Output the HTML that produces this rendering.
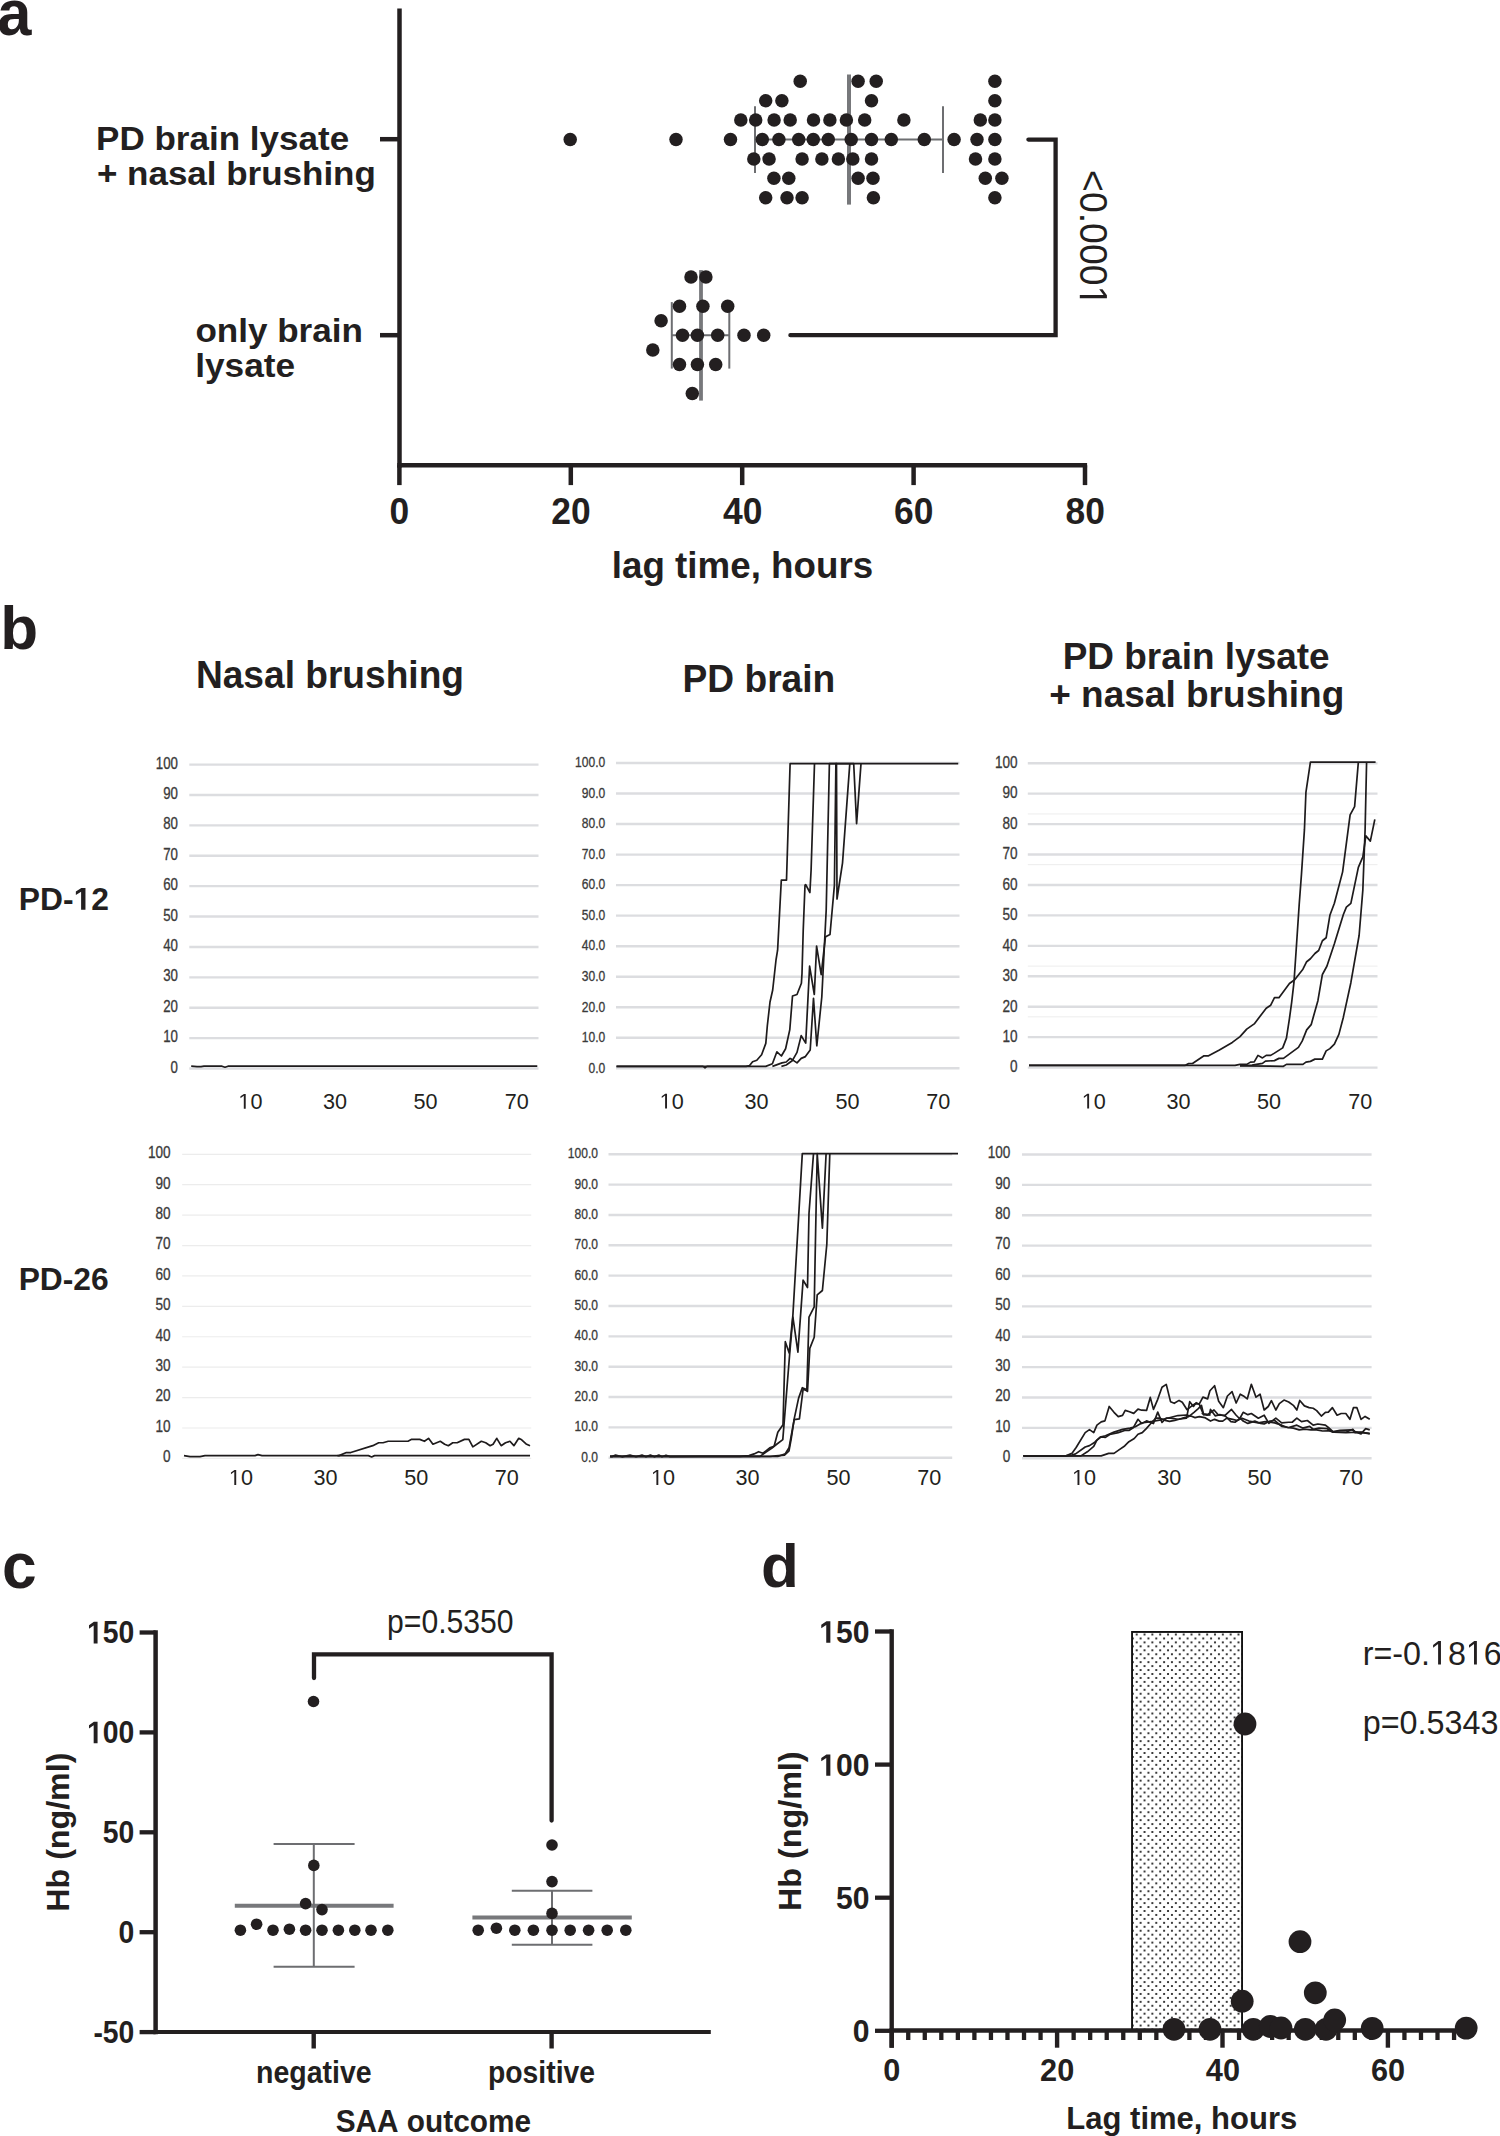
<!DOCTYPE html>
<html><head><meta charset="utf-8"><style>
html,body{margin:0;padding:0;background:#fff;width:1500px;height:2136px;overflow:hidden;}
svg{display:block;}
text{font-family:"Liberation Sans",sans-serif;font-kerning:none;font-variant-ligatures:none;}
</style></head><body>
<svg width="1500" height="2136" viewBox="0 0 1500 2136">
<g transform="translate(-2.86,34.90) scale(0.9600,1)"><text font-size="64" font-weight="bold" fill="#231f20">a</text></g>
<line x1="399.50" y1="8.40" x2="399.50" y2="467.50" stroke="#231f20" stroke-width="4.5" stroke-linecap="butt"/>
<line x1="397.25" y1="465.30" x2="1087.10" y2="465.30" stroke="#231f20" stroke-width="4.5" stroke-linecap="butt"/>
<line x1="380.00" y1="139.20" x2="399.50" y2="139.20" stroke="#231f20" stroke-width="4.5" stroke-linecap="butt"/>
<line x1="380.00" y1="335.20" x2="399.50" y2="335.20" stroke="#231f20" stroke-width="4.5" stroke-linecap="butt"/>
<line x1="399.40" y1="465.30" x2="399.40" y2="485.10" stroke="#231f20" stroke-width="4.5" stroke-linecap="butt"/>
<g transform="translate(389.58,524.00) scale(0.9670,1)"><text font-size="36.6" font-weight="bold" fill="#231f20">0</text></g>
<line x1="570.80" y1="465.30" x2="570.80" y2="485.10" stroke="#231f20" stroke-width="4.5" stroke-linecap="butt"/>
<g transform="translate(551.23,524.00) scale(0.9670,1)"><text font-size="36.6" font-weight="bold" fill="#231f20">20</text></g>
<line x1="742.20" y1="465.30" x2="742.20" y2="485.10" stroke="#231f20" stroke-width="4.5" stroke-linecap="butt"/>
<g transform="translate(722.97,524.00) scale(0.9670,1)"><text font-size="36.6" font-weight="bold" fill="#231f20">40</text></g>
<line x1="913.60" y1="465.30" x2="913.60" y2="485.10" stroke="#231f20" stroke-width="4.5" stroke-linecap="butt"/>
<g transform="translate(893.99,524.00) scale(0.9670,1)"><text font-size="36.6" font-weight="bold" fill="#231f20">60</text></g>
<line x1="1085.00" y1="465.30" x2="1085.00" y2="485.10" stroke="#231f20" stroke-width="4.5" stroke-linecap="butt"/>
<g transform="translate(1065.48,524.00) scale(0.9670,1)"><text font-size="36.6" font-weight="bold" fill="#231f20">80</text></g>
<g transform="translate(611.83,578.00) scale(0.9986,1)"><text font-size="36.8" font-weight="bold" fill="#231f20">lag time, hours</text></g>
<g transform="translate(96.06,150.00) scale(1.0305,1)"><text font-size="34" font-weight="bold" fill="#231f20">PD brain lysate</text></g>
<g transform="translate(96.93,184.60) scale(1.0291,1)"><text font-size="34" font-weight="bold" fill="#231f20">+ nasal brushing</text></g>
<g transform="translate(195.43,342.40) scale(1.0313,1)"><text font-size="34" font-weight="bold" fill="#231f20">only brain</text></g>
<g transform="translate(195.14,377.10) scale(1.0369,1)"><text font-size="34" font-weight="bold" fill="#231f20">lysate</text></g>
<line x1="849.00" y1="74.50" x2="849.00" y2="204.60" stroke="#77787b" stroke-width="4" stroke-linecap="butt"/>
<line x1="755.00" y1="139.50" x2="943.00" y2="139.50" stroke="#6d6e71" stroke-width="2" stroke-linecap="butt"/>
<line x1="755.00" y1="106.30" x2="755.00" y2="172.90" stroke="#6d6e71" stroke-width="2" stroke-linecap="butt"/>
<line x1="943.00" y1="106.30" x2="943.00" y2="172.90" stroke="#6d6e71" stroke-width="2" stroke-linecap="butt"/>
<line x1="701.00" y1="270.10" x2="701.00" y2="400.60" stroke="#77787b" stroke-width="3.8" stroke-linecap="butt"/>
<line x1="671.80" y1="335.20" x2="729.30" y2="335.20" stroke="#6d6e71" stroke-width="2" stroke-linecap="butt"/>
<line x1="671.80" y1="302.10" x2="671.80" y2="368.60" stroke="#6d6e71" stroke-width="2" stroke-linecap="butt"/>
<line x1="729.30" y1="302.10" x2="729.30" y2="368.60" stroke="#6d6e71" stroke-width="2" stroke-linecap="butt"/>
<circle cx="800.20" cy="81.20" r="6.75" fill="#231f20"/>
<circle cx="858.10" cy="81.20" r="6.75" fill="#231f20"/>
<circle cx="876.20" cy="81.20" r="6.75" fill="#231f20"/>
<circle cx="994.90" cy="81.20" r="6.75" fill="#231f20"/>
<circle cx="765.70" cy="100.70" r="6.75" fill="#231f20"/>
<circle cx="781.90" cy="100.70" r="6.75" fill="#231f20"/>
<circle cx="871.50" cy="100.70" r="6.75" fill="#231f20"/>
<circle cx="994.90" cy="100.70" r="6.75" fill="#231f20"/>
<circle cx="740.80" cy="119.90" r="6.75" fill="#231f20"/>
<circle cx="755.70" cy="119.90" r="6.75" fill="#231f20"/>
<circle cx="774.10" cy="119.90" r="6.75" fill="#231f20"/>
<circle cx="790.20" cy="119.90" r="6.75" fill="#231f20"/>
<circle cx="813.50" cy="119.90" r="6.75" fill="#231f20"/>
<circle cx="829.90" cy="119.90" r="6.75" fill="#231f20"/>
<circle cx="846.40" cy="119.90" r="6.75" fill="#231f20"/>
<circle cx="864.70" cy="119.90" r="6.75" fill="#231f20"/>
<circle cx="903.90" cy="119.90" r="6.75" fill="#231f20"/>
<circle cx="980.30" cy="119.90" r="6.75" fill="#231f20"/>
<circle cx="994.90" cy="119.90" r="6.75" fill="#231f20"/>
<circle cx="570.20" cy="139.50" r="6.75" fill="#231f20"/>
<circle cx="676.00" cy="139.50" r="6.75" fill="#231f20"/>
<circle cx="730.50" cy="139.50" r="6.75" fill="#231f20"/>
<circle cx="762.30" cy="139.50" r="6.75" fill="#231f20"/>
<circle cx="778.90" cy="139.50" r="6.75" fill="#231f20"/>
<circle cx="798.70" cy="139.50" r="6.75" fill="#231f20"/>
<circle cx="813.30" cy="139.50" r="6.75" fill="#231f20"/>
<circle cx="828.30" cy="139.50" r="6.75" fill="#231f20"/>
<circle cx="851.20" cy="139.50" r="6.75" fill="#231f20"/>
<circle cx="871.50" cy="139.50" r="6.75" fill="#231f20"/>
<circle cx="891.30" cy="139.50" r="6.75" fill="#231f20"/>
<circle cx="924.30" cy="139.50" r="6.75" fill="#231f20"/>
<circle cx="954.10" cy="139.50" r="6.75" fill="#231f20"/>
<circle cx="977.00" cy="139.50" r="6.75" fill="#231f20"/>
<circle cx="994.90" cy="139.50" r="6.75" fill="#231f20"/>
<circle cx="753.80" cy="158.90" r="6.75" fill="#231f20"/>
<circle cx="769.10" cy="158.90" r="6.75" fill="#231f20"/>
<circle cx="802.10" cy="158.90" r="6.75" fill="#231f20"/>
<circle cx="821.90" cy="158.90" r="6.75" fill="#231f20"/>
<circle cx="838.40" cy="158.90" r="6.75" fill="#231f20"/>
<circle cx="852.80" cy="158.90" r="6.75" fill="#231f20"/>
<circle cx="871.50" cy="158.90" r="6.75" fill="#231f20"/>
<circle cx="975.50" cy="158.90" r="6.75" fill="#231f20"/>
<circle cx="994.90" cy="158.90" r="6.75" fill="#231f20"/>
<circle cx="773.90" cy="178.30" r="6.75" fill="#231f20"/>
<circle cx="788.80" cy="178.30" r="6.75" fill="#231f20"/>
<circle cx="858.10" cy="178.30" r="6.75" fill="#231f20"/>
<circle cx="873.00" cy="178.30" r="6.75" fill="#231f20"/>
<circle cx="985.30" cy="178.30" r="6.75" fill="#231f20"/>
<circle cx="1001.90" cy="178.30" r="6.75" fill="#231f20"/>
<circle cx="765.70" cy="197.80" r="6.75" fill="#231f20"/>
<circle cx="787.00" cy="197.80" r="6.75" fill="#231f20"/>
<circle cx="802.10" cy="197.80" r="6.75" fill="#231f20"/>
<circle cx="873.40" cy="197.80" r="6.75" fill="#231f20"/>
<circle cx="994.90" cy="197.80" r="6.75" fill="#231f20"/>
<circle cx="691.00" cy="276.90" r="6.75" fill="#231f20"/>
<circle cx="705.90" cy="276.90" r="6.75" fill="#231f20"/>
<circle cx="679.50" cy="306.20" r="6.75" fill="#231f20"/>
<circle cx="702.90" cy="306.20" r="6.75" fill="#231f20"/>
<circle cx="727.70" cy="306.20" r="6.75" fill="#231f20"/>
<circle cx="661.10" cy="320.80" r="6.75" fill="#231f20"/>
<circle cx="682.50" cy="335.20" r="6.75" fill="#231f20"/>
<circle cx="697.40" cy="335.20" r="6.75" fill="#231f20"/>
<circle cx="717.70" cy="335.20" r="6.75" fill="#231f20"/>
<circle cx="744.00" cy="335.20" r="6.75" fill="#231f20"/>
<circle cx="763.70" cy="335.20" r="6.75" fill="#231f20"/>
<circle cx="652.80" cy="349.90" r="6.75" fill="#231f20"/>
<circle cx="679.50" cy="364.50" r="6.75" fill="#231f20"/>
<circle cx="697.40" cy="364.50" r="6.75" fill="#231f20"/>
<circle cx="715.70" cy="364.50" r="6.75" fill="#231f20"/>
<circle cx="692.30" cy="393.50" r="6.75" fill="#231f20"/>
<polyline points="1028.40,139.60 1055.60,139.60 1055.60,335.20 790.40,335.20" fill="none" stroke="#231f20" stroke-width="4.3" stroke-linejoin="miter" stroke-linecap="round"/>
<g transform="translate(0,0) rotate(90) translate(170.05,-1079.80) scale(0.9500,1)"><text font-size="39.4" font-weight="normal" fill="#231f20">&lt;0.000&#x2007;</text><path d="M131.51,0.00 L131.51,-23.80 L125.40,-19.43 L125.40,-22.70 L131.80,-27.11 L135.00,-27.11 L135.00,0.00Z" fill="#231f20"/></g>
<g transform="translate(0.31,648.80) scale(1.0000,1)"><text font-size="62" font-weight="bold" fill="#231f20">b</text></g>
<g transform="translate(195.92,688.00) scale(0.9693,1)"><text font-size="38.3" font-weight="bold" fill="#231f20">Nasal brushing</text></g>
<g transform="translate(682.51,692.00) scale(0.9652,1)"><text font-size="38.5" font-weight="bold" fill="#231f20">PD brain</text></g>
<g transform="translate(1062.73,669.00) scale(1.0040,1)"><text font-size="36.8" font-weight="bold" fill="#231f20">PD brain lysate</text></g>
<g transform="translate(1049.15,706.80) scale(1.0061,1)"><text font-size="36.8" font-weight="bold" fill="#231f20">+ nasal brushing</text></g>
<g transform="translate(18.87,909.80) scale(1.0007,1)"><text font-size="31.8" font-weight="bold" fill="#231f20">PD-&#x2007;2</text><path d="M62.19,0.00 L62.19,-18.17 L56.94,-14.89 L56.94,-18.32 L62.42,-21.88 L66.55,-21.88 L66.55,0.00Z" fill="#231f20"/></g>
<g transform="translate(18.67,1290.20) scale(0.9993,1)"><text font-size="31.8" font-weight="bold" fill="#231f20">PD-26</text></g>
<line x1="189.30" y1="1068.50" x2="538.50" y2="1068.50" stroke="#dcdde0" stroke-width="2.4" stroke-linecap="butt"/>
<g transform="translate(170.54,1072.50) scale(0.8500,1)"><text font-size="15.6" font-weight="normal" fill="#3a3a3a" stroke="#3a3a3a" stroke-width="0.3">0</text></g>
<line x1="189.30" y1="1038.11" x2="538.50" y2="1038.11" stroke="#dcdde0" stroke-width="2.4" stroke-linecap="butt"/>
<g transform="translate(163.17,1042.11) scale(0.8500,1)"><text font-size="15.6" font-weight="normal" fill="#3a3a3a" stroke="#3a3a3a" stroke-width="0.3">10</text></g>
<line x1="189.30" y1="1007.72" x2="538.50" y2="1007.72" stroke="#dcdde0" stroke-width="2.4" stroke-linecap="butt"/>
<g transform="translate(163.17,1011.72) scale(0.8500,1)"><text font-size="15.6" font-weight="normal" fill="#3a3a3a" stroke="#3a3a3a" stroke-width="0.3">20</text></g>
<line x1="189.30" y1="977.33" x2="538.50" y2="977.33" stroke="#dcdde0" stroke-width="2.4" stroke-linecap="butt"/>
<g transform="translate(163.17,981.33) scale(0.8500,1)"><text font-size="15.6" font-weight="normal" fill="#3a3a3a" stroke="#3a3a3a" stroke-width="0.3">30</text></g>
<line x1="189.30" y1="946.94" x2="538.50" y2="946.94" stroke="#dcdde0" stroke-width="2.4" stroke-linecap="butt"/>
<g transform="translate(163.17,950.94) scale(0.8500,1)"><text font-size="15.6" font-weight="normal" fill="#3a3a3a" stroke="#3a3a3a" stroke-width="0.3">40</text></g>
<line x1="189.30" y1="916.55" x2="538.50" y2="916.55" stroke="#dcdde0" stroke-width="2.4" stroke-linecap="butt"/>
<g transform="translate(163.17,920.55) scale(0.8500,1)"><text font-size="15.6" font-weight="normal" fill="#3a3a3a" stroke="#3a3a3a" stroke-width="0.3">50</text></g>
<line x1="189.30" y1="886.16" x2="538.50" y2="886.16" stroke="#dcdde0" stroke-width="2.4" stroke-linecap="butt"/>
<g transform="translate(163.17,890.16) scale(0.8500,1)"><text font-size="15.6" font-weight="normal" fill="#3a3a3a" stroke="#3a3a3a" stroke-width="0.3">60</text></g>
<line x1="189.30" y1="855.77" x2="538.50" y2="855.77" stroke="#dcdde0" stroke-width="2.4" stroke-linecap="butt"/>
<g transform="translate(163.17,859.77) scale(0.8500,1)"><text font-size="15.6" font-weight="normal" fill="#3a3a3a" stroke="#3a3a3a" stroke-width="0.3">70</text></g>
<line x1="189.30" y1="825.38" x2="538.50" y2="825.38" stroke="#dcdde0" stroke-width="2.4" stroke-linecap="butt"/>
<g transform="translate(163.17,829.38) scale(0.8500,1)"><text font-size="15.6" font-weight="normal" fill="#3a3a3a" stroke="#3a3a3a" stroke-width="0.3">80</text></g>
<line x1="189.30" y1="794.99" x2="538.50" y2="794.99" stroke="#dcdde0" stroke-width="2.4" stroke-linecap="butt"/>
<g transform="translate(163.17,798.99) scale(0.8500,1)"><text font-size="15.6" font-weight="normal" fill="#3a3a3a" stroke="#3a3a3a" stroke-width="0.3">90</text></g>
<line x1="189.30" y1="764.60" x2="538.50" y2="764.60" stroke="#dcdde0" stroke-width="2.4" stroke-linecap="butt"/>
<g transform="translate(155.79,768.60) scale(0.8500,1)"><text font-size="15.6" font-weight="normal" fill="#3a3a3a" stroke="#3a3a3a" stroke-width="0.3">100</text></g>
<g transform="translate(238.37,1108.80) scale(1.0000,1)"><text font-size="21.6" font-weight="normal" fill="#231f20">&#x2007;0</text><path d="M5.43,0.00 L5.43,-13.05 L2.08,-10.65 L2.08,-12.45 L5.59,-14.86 L7.34,-14.86 L7.34,0.00Z" fill="#231f20"/></g>
<g transform="translate(323.00,1108.80) scale(1.0000,1)"><text font-size="21.6" font-weight="normal" fill="#231f20">30</text></g>
<g transform="translate(413.58,1108.80) scale(1.0000,1)"><text font-size="21.6" font-weight="normal" fill="#231f20">50</text></g>
<g transform="translate(504.76,1108.80) scale(1.0000,1)"><text font-size="21.6" font-weight="normal" fill="#231f20">70</text></g>
<polyline points="191.20,1066.20 197.00,1066.60 201.00,1066.60 204.00,1066.20 222.00,1066.20 225.00,1067.20 228.00,1066.20 537.30,1066.20" fill="none" stroke="#1e1b1c" stroke-width="1.7" stroke-linejoin="round" stroke-linecap="butt"/>
<line x1="616.00" y1="1068.30" x2="959.50" y2="1068.30" stroke="#dcdde0" stroke-width="2.4" stroke-linecap="butt"/>
<g transform="translate(588.49,1072.60) scale(0.8500,1)"><text font-size="14.2" font-weight="normal" fill="#3a3a3a" stroke="#3a3a3a" stroke-width="0.3">0.0</text></g>
<line x1="616.00" y1="1037.77" x2="959.50" y2="1037.77" stroke="#dcdde0" stroke-width="2.4" stroke-linecap="butt"/>
<g transform="translate(581.78,1042.07) scale(0.8500,1)"><text font-size="14.2" font-weight="normal" fill="#3a3a3a" stroke="#3a3a3a" stroke-width="0.3">10.0</text></g>
<line x1="616.00" y1="1007.24" x2="959.50" y2="1007.24" stroke="#dcdde0" stroke-width="2.4" stroke-linecap="butt"/>
<g transform="translate(581.78,1011.54) scale(0.8500,1)"><text font-size="14.2" font-weight="normal" fill="#3a3a3a" stroke="#3a3a3a" stroke-width="0.3">20.0</text></g>
<line x1="616.00" y1="976.71" x2="959.50" y2="976.71" stroke="#dcdde0" stroke-width="2.4" stroke-linecap="butt"/>
<g transform="translate(581.78,981.01) scale(0.8500,1)"><text font-size="14.2" font-weight="normal" fill="#3a3a3a" stroke="#3a3a3a" stroke-width="0.3">30.0</text></g>
<line x1="616.00" y1="946.18" x2="959.50" y2="946.18" stroke="#dcdde0" stroke-width="2.4" stroke-linecap="butt"/>
<g transform="translate(581.78,950.48) scale(0.8500,1)"><text font-size="14.2" font-weight="normal" fill="#3a3a3a" stroke="#3a3a3a" stroke-width="0.3">40.0</text></g>
<line x1="616.00" y1="915.65" x2="959.50" y2="915.65" stroke="#dcdde0" stroke-width="2.4" stroke-linecap="butt"/>
<g transform="translate(581.78,919.95) scale(0.8500,1)"><text font-size="14.2" font-weight="normal" fill="#3a3a3a" stroke="#3a3a3a" stroke-width="0.3">50.0</text></g>
<line x1="616.00" y1="885.12" x2="959.50" y2="885.12" stroke="#dcdde0" stroke-width="2.4" stroke-linecap="butt"/>
<g transform="translate(581.78,889.42) scale(0.8500,1)"><text font-size="14.2" font-weight="normal" fill="#3a3a3a" stroke="#3a3a3a" stroke-width="0.3">60.0</text></g>
<line x1="616.00" y1="854.59" x2="959.50" y2="854.59" stroke="#dcdde0" stroke-width="2.4" stroke-linecap="butt"/>
<g transform="translate(581.78,858.89) scale(0.8500,1)"><text font-size="14.2" font-weight="normal" fill="#3a3a3a" stroke="#3a3a3a" stroke-width="0.3">70.0</text></g>
<line x1="616.00" y1="824.06" x2="959.50" y2="824.06" stroke="#dcdde0" stroke-width="2.4" stroke-linecap="butt"/>
<g transform="translate(581.78,828.36) scale(0.8500,1)"><text font-size="14.2" font-weight="normal" fill="#3a3a3a" stroke="#3a3a3a" stroke-width="0.3">80.0</text></g>
<line x1="616.00" y1="793.53" x2="959.50" y2="793.53" stroke="#dcdde0" stroke-width="2.4" stroke-linecap="butt"/>
<g transform="translate(581.78,797.83) scale(0.8500,1)"><text font-size="14.2" font-weight="normal" fill="#3a3a3a" stroke="#3a3a3a" stroke-width="0.3">90.0</text></g>
<line x1="616.00" y1="763.00" x2="959.50" y2="763.00" stroke="#dcdde0" stroke-width="2.4" stroke-linecap="butt"/>
<g transform="translate(575.07,767.30) scale(0.8500,1)"><text font-size="14.2" font-weight="normal" fill="#3a3a3a" stroke="#3a3a3a" stroke-width="0.3">100.0</text></g>
<g transform="translate(659.67,1108.60) scale(1.0000,1)"><text font-size="21.6" font-weight="normal" fill="#231f20">&#x2007;0</text><path d="M5.43,0.00 L5.43,-13.05 L2.08,-10.65 L2.08,-12.45 L5.59,-14.86 L7.34,-14.86 L7.34,0.00Z" fill="#231f20"/></g>
<g transform="translate(744.50,1108.60) scale(1.0000,1)"><text font-size="21.6" font-weight="normal" fill="#231f20">30</text></g>
<g transform="translate(835.48,1108.60) scale(1.0000,1)"><text font-size="21.6" font-weight="normal" fill="#231f20">50</text></g>
<g transform="translate(926.26,1108.60) scale(1.0000,1)"><text font-size="21.6" font-weight="normal" fill="#231f20">70</text></g>
<polyline points="616.50,1066.40 746.00,1066.40 749.60,1065.60 752.60,1061.70 756.80,1060.20 761.60,1054.80 765.80,1043.40 767.30,1026.00 770.00,1002.00 772.70,990.00 776.00,960.00 777.60,950.20 781.30,880.20 786.50,880.20 790.10,763.60 958.20,763.60" fill="none" stroke="#1e1b1c" stroke-width="1.7" stroke-linejoin="round" stroke-linecap="butt"/>
<polyline points="616.50,1066.40 703.00,1066.40 705.00,1067.80 707.00,1066.40 765.80,1066.40 772.40,1063.80 776.90,1051.80 781.40,1056.00 785.60,1048.80 789.80,1029.60 792.50,996.00 797.00,994.50 801.40,983.20 802.00,973.50 803.20,930.90 805.00,885.20 805.70,884.60 809.90,892.50 811.10,870.00 814.50,763.60" fill="none" stroke="#1e1b1c" stroke-width="1.7" stroke-linejoin="round" stroke-linecap="butt"/>
<polyline points="772.40,1066.40 782.00,1062.90 786.20,1062.00 790.10,1058.40 792.20,1059.60 797.00,1062.90 801.20,1058.40 805.40,1056.60 810.20,1050.00 813.50,998.40 816.80,1045.80 821.80,997.00 826.20,910.00 829.40,763.60 853.70,763.60 856.60,823.60 861.00,763.60" fill="none" stroke="#1e1b1c" stroke-width="1.7" stroke-linejoin="round" stroke-linecap="butt"/>
<polyline points="781.40,1066.40 786.20,1065.00 792.20,1060.80 797.00,1052.40 801.20,1035.60 805.70,1043.10 809.60,966.20 814.30,994.50 816.60,946.10 821.20,974.70 825.40,937.00 826.60,936.30 830.00,934.50 834.40,885.30 835.90,763.60 836.50,763.60 837.00,899.00 842.50,863.20 849.80,763.60" fill="none" stroke="#1e1b1c" stroke-width="1.7" stroke-linejoin="round" stroke-linecap="butt"/>
<line x1="1027.80" y1="1016.87" x2="1377.50" y2="1016.87" stroke="#ededed" stroke-width="1" stroke-linecap="butt"/>
<line x1="1027.80" y1="966.13" x2="1377.50" y2="966.13" stroke="#ededed" stroke-width="1" stroke-linecap="butt"/>
<line x1="1027.80" y1="864.67" x2="1377.50" y2="864.67" stroke="#ededed" stroke-width="1" stroke-linecap="butt"/>
<line x1="1027.80" y1="813.93" x2="1377.50" y2="813.93" stroke="#ededed" stroke-width="1" stroke-linecap="butt"/>
<line x1="1027.80" y1="1067.60" x2="1377.50" y2="1067.60" stroke="#dcdde0" stroke-width="2.4" stroke-linecap="butt"/>
<g transform="translate(1009.98,1072.40) scale(0.8700,1)"><text font-size="15.6" font-weight="normal" fill="#3a3a3a" stroke="#3a3a3a" stroke-width="0.3">0</text></g>
<line x1="1027.80" y1="1037.16" x2="1377.50" y2="1037.16" stroke="#dcdde0" stroke-width="2.4" stroke-linecap="butt"/>
<g transform="translate(1002.43,1041.96) scale(0.8700,1)"><text font-size="15.6" font-weight="normal" fill="#3a3a3a" stroke="#3a3a3a" stroke-width="0.3">10</text></g>
<line x1="1027.80" y1="1006.72" x2="1377.50" y2="1006.72" stroke="#dcdde0" stroke-width="2.4" stroke-linecap="butt"/>
<g transform="translate(1002.43,1011.52) scale(0.8700,1)"><text font-size="15.6" font-weight="normal" fill="#3a3a3a" stroke="#3a3a3a" stroke-width="0.3">20</text></g>
<line x1="1027.80" y1="976.28" x2="1377.50" y2="976.28" stroke="#dcdde0" stroke-width="2.4" stroke-linecap="butt"/>
<g transform="translate(1002.43,981.08) scale(0.8700,1)"><text font-size="15.6" font-weight="normal" fill="#3a3a3a" stroke="#3a3a3a" stroke-width="0.3">30</text></g>
<line x1="1027.80" y1="945.84" x2="1377.50" y2="945.84" stroke="#dcdde0" stroke-width="2.4" stroke-linecap="butt"/>
<g transform="translate(1002.43,950.64) scale(0.8700,1)"><text font-size="15.6" font-weight="normal" fill="#3a3a3a" stroke="#3a3a3a" stroke-width="0.3">40</text></g>
<line x1="1027.80" y1="915.40" x2="1377.50" y2="915.40" stroke="#dcdde0" stroke-width="2.4" stroke-linecap="butt"/>
<g transform="translate(1002.43,920.20) scale(0.8700,1)"><text font-size="15.6" font-weight="normal" fill="#3a3a3a" stroke="#3a3a3a" stroke-width="0.3">50</text></g>
<line x1="1027.80" y1="884.96" x2="1377.50" y2="884.96" stroke="#dcdde0" stroke-width="2.4" stroke-linecap="butt"/>
<g transform="translate(1002.43,889.76) scale(0.8700,1)"><text font-size="15.6" font-weight="normal" fill="#3a3a3a" stroke="#3a3a3a" stroke-width="0.3">60</text></g>
<line x1="1027.80" y1="854.52" x2="1377.50" y2="854.52" stroke="#dcdde0" stroke-width="2.4" stroke-linecap="butt"/>
<g transform="translate(1002.43,859.32) scale(0.8700,1)"><text font-size="15.6" font-weight="normal" fill="#3a3a3a" stroke="#3a3a3a" stroke-width="0.3">70</text></g>
<line x1="1027.80" y1="824.08" x2="1377.50" y2="824.08" stroke="#dcdde0" stroke-width="2.4" stroke-linecap="butt"/>
<g transform="translate(1002.43,828.88) scale(0.8700,1)"><text font-size="15.6" font-weight="normal" fill="#3a3a3a" stroke="#3a3a3a" stroke-width="0.3">80</text></g>
<line x1="1027.80" y1="793.64" x2="1377.50" y2="793.64" stroke="#dcdde0" stroke-width="2.4" stroke-linecap="butt"/>
<g transform="translate(1002.43,798.44) scale(0.8700,1)"><text font-size="15.6" font-weight="normal" fill="#3a3a3a" stroke="#3a3a3a" stroke-width="0.3">90</text></g>
<line x1="1027.80" y1="763.20" x2="1377.50" y2="763.20" stroke="#dcdde0" stroke-width="2.4" stroke-linecap="butt"/>
<g transform="translate(994.89,768.00) scale(0.8700,1)"><text font-size="15.6" font-weight="normal" fill="#3a3a3a" stroke="#3a3a3a" stroke-width="0.3">100</text></g>
<g transform="translate(1081.77,1108.60) scale(1.0000,1)"><text font-size="21.6" font-weight="normal" fill="#231f20">&#x2007;0</text><path d="M5.43,0.00 L5.43,-13.05 L2.08,-10.65 L2.08,-12.45 L5.59,-14.86 L7.34,-14.86 L7.34,0.00Z" fill="#231f20"/></g>
<g transform="translate(1166.60,1108.60) scale(1.0000,1)"><text font-size="21.6" font-weight="normal" fill="#231f20">30</text></g>
<g transform="translate(1256.88,1108.60) scale(1.0000,1)"><text font-size="21.6" font-weight="normal" fill="#231f20">50</text></g>
<g transform="translate(1348.36,1108.60) scale(1.0000,1)"><text font-size="21.6" font-weight="normal" fill="#231f20">70</text></g>
<polyline points="1029.00,1065.40 1235.00,1065.40 1240.00,1064.36 1246.74,1064.36 1250.49,1062.12 1254.23,1061.82 1257.98,1055.37 1262.47,1057.92 1266.22,1055.37 1270.71,1055.37 1274.46,1053.13 1282.70,1047.88 1286.44,1038.15 1289.44,1018.67 1291.69,1002.19 1293.93,982.72 1296.18,949.76 1299.18,904.81 1301.42,874.85 1304.42,829.91 1305.92,792.45 1310.41,762.19 1375.58,762.19" fill="none" stroke="#1e1b1c" stroke-width="1.7" stroke-linejoin="round" stroke-linecap="butt"/>
<polyline points="1029.00,1065.40 1184.90,1065.40 1188.70,1063.50 1192.50,1063.50 1204.00,1055.80 1208.60,1055.80 1219.40,1050.00 1232.30,1042.40 1240.00,1036.65 1246.74,1029.16 1254.23,1023.91 1266.22,1008.18 1270.71,1005.19 1274.46,997.70 1278.95,997.70 1289.44,983.46 1294.68,979.72 1302.92,969.23 1306.67,961.74 1310.41,958.75 1314.91,953.50 1318.65,950.51 1322.40,940.77 1326.14,937.77 1329.89,915.30 1334.38,903.31 1342.62,871.85 1350.11,814.93 1354.61,806.69 1358.35,762.19" fill="none" stroke="#1e1b1c" stroke-width="1.7" stroke-linejoin="round" stroke-linecap="butt"/>
<polyline points="1240.00,1065.40 1251.99,1065.11 1262.47,1063.31 1265.47,1061.07 1274.46,1060.62 1278.95,1058.37 1283.45,1058.37 1298.43,1047.43 1302.17,1041.14 1306.67,1029.91 1311.16,1024.66 1317.90,1000.69 1322.40,974.48 1326.89,966.24 1334.38,943.76 1343.37,914.55 1346.37,907.06 1350.86,903.31 1358.35,867.36 1362.85,856.87 1365.84,835.90 1370.34,841.14 1374.83,819.42" fill="none" stroke="#1e1b1c" stroke-width="1.7" stroke-linejoin="round" stroke-linecap="butt"/>
<polyline points="1240.00,1065.90 1283.45,1066.31 1286.44,1064.36 1302.92,1064.36 1305.92,1062.12 1310.41,1061.37 1314.91,1059.12 1322.40,1059.12 1326.14,1050.88 1329.89,1048.63 1334.38,1044.14 1338.88,1034.40 1343.37,1017.17 1350.86,982.72 1359.10,935.52 1362.85,889.83 1365.09,829.91 1366.59,762.19" fill="none" stroke="#1e1b1c" stroke-width="1.7" stroke-linejoin="round" stroke-linecap="butt"/>
<line x1="182.20" y1="1458.40" x2="531.20" y2="1458.40" stroke="#ececec" stroke-width="1.2" stroke-linecap="butt"/>
<g transform="translate(162.98,1462.20) scale(0.8700,1)"><text font-size="15.6" font-weight="normal" fill="#3a3a3a" stroke="#3a3a3a" stroke-width="0.3">0</text></g>
<line x1="182.20" y1="1427.99" x2="531.20" y2="1427.99" stroke="#ececec" stroke-width="1.2" stroke-linecap="butt"/>
<g transform="translate(155.43,1431.79) scale(0.8700,1)"><text font-size="15.6" font-weight="normal" fill="#3a3a3a" stroke="#3a3a3a" stroke-width="0.3">10</text></g>
<line x1="182.20" y1="1397.58" x2="531.20" y2="1397.58" stroke="#ececec" stroke-width="1.2" stroke-linecap="butt"/>
<g transform="translate(155.43,1401.38) scale(0.8700,1)"><text font-size="15.6" font-weight="normal" fill="#3a3a3a" stroke="#3a3a3a" stroke-width="0.3">20</text></g>
<line x1="182.20" y1="1367.17" x2="531.20" y2="1367.17" stroke="#ececec" stroke-width="1.2" stroke-linecap="butt"/>
<g transform="translate(155.43,1370.97) scale(0.8700,1)"><text font-size="15.6" font-weight="normal" fill="#3a3a3a" stroke="#3a3a3a" stroke-width="0.3">30</text></g>
<line x1="182.20" y1="1336.76" x2="531.20" y2="1336.76" stroke="#ececec" stroke-width="1.2" stroke-linecap="butt"/>
<g transform="translate(155.43,1340.56) scale(0.8700,1)"><text font-size="15.6" font-weight="normal" fill="#3a3a3a" stroke="#3a3a3a" stroke-width="0.3">40</text></g>
<line x1="182.20" y1="1306.35" x2="531.20" y2="1306.35" stroke="#ececec" stroke-width="1.2" stroke-linecap="butt"/>
<g transform="translate(155.43,1310.15) scale(0.8700,1)"><text font-size="15.6" font-weight="normal" fill="#3a3a3a" stroke="#3a3a3a" stroke-width="0.3">50</text></g>
<line x1="182.20" y1="1275.94" x2="531.20" y2="1275.94" stroke="#ececec" stroke-width="1.2" stroke-linecap="butt"/>
<g transform="translate(155.43,1279.74) scale(0.8700,1)"><text font-size="15.6" font-weight="normal" fill="#3a3a3a" stroke="#3a3a3a" stroke-width="0.3">60</text></g>
<line x1="182.20" y1="1245.53" x2="531.20" y2="1245.53" stroke="#ececec" stroke-width="1.2" stroke-linecap="butt"/>
<g transform="translate(155.43,1249.33) scale(0.8700,1)"><text font-size="15.6" font-weight="normal" fill="#3a3a3a" stroke="#3a3a3a" stroke-width="0.3">70</text></g>
<line x1="182.20" y1="1215.12" x2="531.20" y2="1215.12" stroke="#ececec" stroke-width="1.2" stroke-linecap="butt"/>
<g transform="translate(155.43,1218.92) scale(0.8700,1)"><text font-size="15.6" font-weight="normal" fill="#3a3a3a" stroke="#3a3a3a" stroke-width="0.3">80</text></g>
<line x1="182.20" y1="1184.71" x2="531.20" y2="1184.71" stroke="#ececec" stroke-width="1.2" stroke-linecap="butt"/>
<g transform="translate(155.43,1188.51) scale(0.8700,1)"><text font-size="15.6" font-weight="normal" fill="#3a3a3a" stroke="#3a3a3a" stroke-width="0.3">90</text></g>
<line x1="182.20" y1="1154.30" x2="531.20" y2="1154.30" stroke="#ececec" stroke-width="1.2" stroke-linecap="butt"/>
<g transform="translate(147.89,1158.10) scale(0.8700,1)"><text font-size="15.6" font-weight="normal" fill="#3a3a3a" stroke="#3a3a3a" stroke-width="0.3">100</text></g>
<g transform="translate(228.87,1484.90) scale(1.0000,1)"><text font-size="21.6" font-weight="normal" fill="#231f20">&#x2007;0</text><path d="M5.43,0.00 L5.43,-13.05 L2.08,-10.65 L2.08,-12.45 L5.59,-14.86 L7.34,-14.86 L7.34,0.00Z" fill="#231f20"/></g>
<g transform="translate(313.50,1484.90) scale(1.0000,1)"><text font-size="21.6" font-weight="normal" fill="#231f20">30</text></g>
<g transform="translate(404.18,1484.90) scale(1.0000,1)"><text font-size="21.6" font-weight="normal" fill="#231f20">50</text></g>
<g transform="translate(494.76,1484.90) scale(1.0000,1)"><text font-size="21.6" font-weight="normal" fill="#231f20">70</text></g>
<polyline points="184.00,1455.60 190.00,1456.60 200.00,1456.60 205.00,1455.60 255.00,1455.60 258.00,1454.60 262.00,1455.60 320.00,1455.64 368.40,1455.64 371.63,1456.96 374.56,1455.64 530.03,1455.64" fill="none" stroke="#1e1b1c" stroke-width="1.7" stroke-linejoin="round" stroke-linecap="butt"/>
<polyline points="337.50,1455.60 339.07,1455.64 346.40,1452.56 350.80,1452.56 372.80,1445.67 378.67,1442.73 383.07,1442.73 388.20,1441.27 408.00,1441.27 411.67,1439.36 419.74,1439.36 424.43,1441.27 428.54,1438.33 432.94,1444.20 440.27,1441.27 444.67,1444.20 448.34,1445.67 452.74,1442.73 457.14,1442.73 464.47,1439.36 468.87,1439.36 472.83,1446.84 481.34,1441.27 485.74,1442.73 490.14,1445.67 493.07,1444.20 496.74,1438.33 501.14,1445.67 505.54,1442.73 509.94,1441.27 513.90,1445.67 518.74,1438.33 521.67,1439.80 526.07,1443.91 530.03,1445.67" fill="none" stroke="#1e1b1c" stroke-width="1.7" stroke-linejoin="round" stroke-linecap="butt"/>
<line x1="608.50" y1="1457.70" x2="952.20" y2="1457.70" stroke="#dcdde0" stroke-width="2.4" stroke-linecap="butt"/>
<g transform="translate(581.29,1461.80) scale(0.8500,1)"><text font-size="14.2" font-weight="normal" fill="#3a3a3a" stroke="#3a3a3a" stroke-width="0.3">0.0</text></g>
<line x1="608.50" y1="1427.36" x2="952.20" y2="1427.36" stroke="#dcdde0" stroke-width="2.4" stroke-linecap="butt"/>
<g transform="translate(574.58,1431.46) scale(0.8500,1)"><text font-size="14.2" font-weight="normal" fill="#3a3a3a" stroke="#3a3a3a" stroke-width="0.3">10.0</text></g>
<line x1="608.50" y1="1397.02" x2="952.20" y2="1397.02" stroke="#dcdde0" stroke-width="2.4" stroke-linecap="butt"/>
<g transform="translate(574.58,1401.12) scale(0.8500,1)"><text font-size="14.2" font-weight="normal" fill="#3a3a3a" stroke="#3a3a3a" stroke-width="0.3">20.0</text></g>
<line x1="608.50" y1="1366.68" x2="952.20" y2="1366.68" stroke="#dcdde0" stroke-width="2.4" stroke-linecap="butt"/>
<g transform="translate(574.58,1370.78) scale(0.8500,1)"><text font-size="14.2" font-weight="normal" fill="#3a3a3a" stroke="#3a3a3a" stroke-width="0.3">30.0</text></g>
<line x1="608.50" y1="1336.34" x2="952.20" y2="1336.34" stroke="#dcdde0" stroke-width="2.4" stroke-linecap="butt"/>
<g transform="translate(574.58,1340.44) scale(0.8500,1)"><text font-size="14.2" font-weight="normal" fill="#3a3a3a" stroke="#3a3a3a" stroke-width="0.3">40.0</text></g>
<line x1="608.50" y1="1306.00" x2="952.20" y2="1306.00" stroke="#dcdde0" stroke-width="2.4" stroke-linecap="butt"/>
<g transform="translate(574.58,1310.10) scale(0.8500,1)"><text font-size="14.2" font-weight="normal" fill="#3a3a3a" stroke="#3a3a3a" stroke-width="0.3">50.0</text></g>
<line x1="608.50" y1="1275.66" x2="952.20" y2="1275.66" stroke="#dcdde0" stroke-width="2.4" stroke-linecap="butt"/>
<g transform="translate(574.58,1279.76) scale(0.8500,1)"><text font-size="14.2" font-weight="normal" fill="#3a3a3a" stroke="#3a3a3a" stroke-width="0.3">60.0</text></g>
<line x1="608.50" y1="1245.32" x2="952.20" y2="1245.32" stroke="#dcdde0" stroke-width="2.4" stroke-linecap="butt"/>
<g transform="translate(574.58,1249.42) scale(0.8500,1)"><text font-size="14.2" font-weight="normal" fill="#3a3a3a" stroke="#3a3a3a" stroke-width="0.3">70.0</text></g>
<line x1="608.50" y1="1214.98" x2="952.20" y2="1214.98" stroke="#dcdde0" stroke-width="2.4" stroke-linecap="butt"/>
<g transform="translate(574.58,1219.08) scale(0.8500,1)"><text font-size="14.2" font-weight="normal" fill="#3a3a3a" stroke="#3a3a3a" stroke-width="0.3">80.0</text></g>
<line x1="608.50" y1="1184.64" x2="952.20" y2="1184.64" stroke="#dcdde0" stroke-width="2.4" stroke-linecap="butt"/>
<g transform="translate(574.58,1188.74) scale(0.8500,1)"><text font-size="14.2" font-weight="normal" fill="#3a3a3a" stroke="#3a3a3a" stroke-width="0.3">90.0</text></g>
<line x1="608.50" y1="1154.30" x2="952.20" y2="1154.30" stroke="#dcdde0" stroke-width="2.4" stroke-linecap="butt"/>
<g transform="translate(567.87,1158.40) scale(0.8500,1)"><text font-size="14.2" font-weight="normal" fill="#3a3a3a" stroke="#3a3a3a" stroke-width="0.3">100.0</text></g>
<g transform="translate(650.97,1484.90) scale(1.0000,1)"><text font-size="21.6" font-weight="normal" fill="#231f20">&#x2007;0</text><path d="M5.43,0.00 L5.43,-13.05 L2.08,-10.65 L2.08,-12.45 L5.59,-14.86 L7.34,-14.86 L7.34,0.00Z" fill="#231f20"/></g>
<g transform="translate(735.40,1484.90) scale(1.0000,1)"><text font-size="21.6" font-weight="normal" fill="#231f20">30</text></g>
<g transform="translate(826.48,1484.90) scale(1.0000,1)"><text font-size="21.6" font-weight="normal" fill="#231f20">50</text></g>
<g transform="translate(917.36,1484.90) scale(1.0000,1)"><text font-size="21.6" font-weight="normal" fill="#231f20">70</text></g>
<polyline points="610.20,1456.60 612.00,1456.60 615.60,1455.00 622.00,1456.80 630.00,1455.00 636.00,1456.80 642.00,1455.10 646.00,1456.80 650.40,1455.10 654.50,1456.80 658.80,1455.10 662.00,1456.80 666.00,1455.20 670.00,1456.60 700.00,1456.40 740.00,1456.40 749.00,1455.60 754.10,1453.90 758.60,1451.70 763.00,1453.20 766.00,1450.80 769.70,1447.80 774.10,1446.30 777.80,1432.20 783.00,1424.80 785.30,1341.70 789.20,1353.00 792.90,1315.00 802.30,1153.60 958.00,1153.60" fill="none" stroke="#1e1b1c" stroke-width="1.7" stroke-linejoin="round" stroke-linecap="butt"/>
<polyline points="610.00,1456.40 760.00,1456.40 766.00,1452.00 772.00,1448.00 777.00,1444.00 782.80,1439.60 789.60,1355.00 792.90,1317.00 797.90,1352.10 803.10,1280.10 807.50,1287.50 809.00,1213.30 813.50,1153.60" fill="none" stroke="#1e1b1c" stroke-width="1.7" stroke-linejoin="round" stroke-linecap="butt"/>
<polyline points="610.00,1456.40 770.00,1456.40 784.50,1455.20 789.00,1450.80 791.20,1438.90 794.20,1418.90 798.60,1398.10 802.30,1387.70 806.00,1389.20 807.50,1391.40 809.80,1348.40 814.20,1337.20 817.20,1294.90 822.40,1290.50 826.80,1244.50 829.80,1153.60" fill="none" stroke="#1e1b1c" stroke-width="1.7" stroke-linejoin="round" stroke-linecap="butt"/>
<polyline points="610.00,1456.50 777.80,1456.50 785.30,1453.70 789.00,1447.80 792.00,1431.50 794.20,1419.60 799.40,1418.90 803.10,1389.20 806.80,1390.70 809.00,1317.20 814.20,1306.80 815.70,1228.10 817.20,1153.60 822.40,1228.10 826.10,1153.60" fill="none" stroke="#1e1b1c" stroke-width="1.7" stroke-linejoin="round" stroke-linecap="butt"/>
<line x1="1022.00" y1="1458.30" x2="1371.60" y2="1458.30" stroke="#dcdde0" stroke-width="2.4" stroke-linecap="butt"/>
<g transform="translate(1002.78,1462.10) scale(0.8700,1)"><text font-size="15.6" font-weight="normal" fill="#3a3a3a" stroke="#3a3a3a" stroke-width="0.3">0</text></g>
<line x1="1022.00" y1="1427.92" x2="1371.60" y2="1427.92" stroke="#dcdde0" stroke-width="2.4" stroke-linecap="butt"/>
<g transform="translate(995.23,1431.72) scale(0.8700,1)"><text font-size="15.6" font-weight="normal" fill="#3a3a3a" stroke="#3a3a3a" stroke-width="0.3">10</text></g>
<line x1="1022.00" y1="1397.54" x2="1371.60" y2="1397.54" stroke="#dcdde0" stroke-width="2.4" stroke-linecap="butt"/>
<g transform="translate(995.23,1401.34) scale(0.8700,1)"><text font-size="15.6" font-weight="normal" fill="#3a3a3a" stroke="#3a3a3a" stroke-width="0.3">20</text></g>
<line x1="1022.00" y1="1367.16" x2="1371.60" y2="1367.16" stroke="#dcdde0" stroke-width="2.4" stroke-linecap="butt"/>
<g transform="translate(995.23,1370.96) scale(0.8700,1)"><text font-size="15.6" font-weight="normal" fill="#3a3a3a" stroke="#3a3a3a" stroke-width="0.3">30</text></g>
<line x1="1022.00" y1="1336.78" x2="1371.60" y2="1336.78" stroke="#dcdde0" stroke-width="2.4" stroke-linecap="butt"/>
<g transform="translate(995.23,1340.58) scale(0.8700,1)"><text font-size="15.6" font-weight="normal" fill="#3a3a3a" stroke="#3a3a3a" stroke-width="0.3">40</text></g>
<line x1="1022.00" y1="1306.40" x2="1371.60" y2="1306.40" stroke="#dcdde0" stroke-width="2.4" stroke-linecap="butt"/>
<g transform="translate(995.23,1310.20) scale(0.8700,1)"><text font-size="15.6" font-weight="normal" fill="#3a3a3a" stroke="#3a3a3a" stroke-width="0.3">50</text></g>
<line x1="1022.00" y1="1276.02" x2="1371.60" y2="1276.02" stroke="#dcdde0" stroke-width="2.4" stroke-linecap="butt"/>
<g transform="translate(995.23,1279.82) scale(0.8700,1)"><text font-size="15.6" font-weight="normal" fill="#3a3a3a" stroke="#3a3a3a" stroke-width="0.3">60</text></g>
<line x1="1022.00" y1="1245.64" x2="1371.60" y2="1245.64" stroke="#dcdde0" stroke-width="2.4" stroke-linecap="butt"/>
<g transform="translate(995.23,1249.44) scale(0.8700,1)"><text font-size="15.6" font-weight="normal" fill="#3a3a3a" stroke="#3a3a3a" stroke-width="0.3">70</text></g>
<line x1="1022.00" y1="1215.26" x2="1371.60" y2="1215.26" stroke="#dcdde0" stroke-width="2.4" stroke-linecap="butt"/>
<g transform="translate(995.23,1219.06) scale(0.8700,1)"><text font-size="15.6" font-weight="normal" fill="#3a3a3a" stroke="#3a3a3a" stroke-width="0.3">80</text></g>
<line x1="1022.00" y1="1184.88" x2="1371.60" y2="1184.88" stroke="#dcdde0" stroke-width="2.4" stroke-linecap="butt"/>
<g transform="translate(995.23,1188.68) scale(0.8700,1)"><text font-size="15.6" font-weight="normal" fill="#3a3a3a" stroke="#3a3a3a" stroke-width="0.3">90</text></g>
<line x1="1022.00" y1="1154.50" x2="1371.60" y2="1154.50" stroke="#dcdde0" stroke-width="2.4" stroke-linecap="butt"/>
<g transform="translate(987.69,1158.30) scale(0.8700,1)"><text font-size="15.6" font-weight="normal" fill="#3a3a3a" stroke="#3a3a3a" stroke-width="0.3">100</text></g>
<g transform="translate(1072.07,1484.90) scale(1.0000,1)"><text font-size="21.6" font-weight="normal" fill="#231f20">&#x2007;0</text><path d="M5.43,0.00 L5.43,-13.05 L2.08,-10.65 L2.08,-12.45 L5.59,-14.86 L7.34,-14.86 L7.34,0.00Z" fill="#231f20"/></g>
<g transform="translate(1157.20,1484.90) scale(1.0000,1)"><text font-size="21.6" font-weight="normal" fill="#231f20">30</text></g>
<g transform="translate(1247.58,1484.90) scale(1.0000,1)"><text font-size="21.6" font-weight="normal" fill="#231f20">50</text></g>
<g transform="translate(1338.96,1484.90) scale(1.0000,1)"><text font-size="21.6" font-weight="normal" fill="#231f20">70</text></g>
<polyline points="1023.40,1455.90 1066.00,1455.85 1071.87,1453.40 1076.13,1447.53 1085.20,1432.60 1089.47,1429.61 1093.73,1432.60 1096.93,1425.13 1101.20,1421.93 1104.93,1420.87 1109.20,1406.47 1114.00,1412.33 1118.27,1416.60 1122.53,1415.32 1125.20,1410.41 1129.47,1411.80 1133.73,1413.40 1138.00,1409.13 1141.73,1410.20 1146.53,1410.41 1150.27,1397.40 1153.47,1409.35 1157.73,1399.32 1162.00,1387.27 1166.27,1384.39 1170.53,1401.67 1174.27,1403.27 1179.07,1400.39 1182.27,1402.20 1187.07,1409.67 1191.87,1405.93 1195.07,1403.80 1199.33,1403.80 1202.92,1397.17 1207.58,1398.92 1209.92,1390.75 1214.58,1385.73 1218.67,1401.25 1223.33,1407.67 1227.42,1396.00 1232.08,1391.68 1236.17,1403.00 1240.25,1394.25 1244.34,1396.58 1247.25,1398.92 1251.34,1384.33 1256.00,1397.17 1260.09,1394.25 1264.17,1410.00 1268.25,1406.50 1271.40,1400.67 1275.84,1410.00 1279.34,1403.58 1284.00,1400.08 1288.67,1402.07 1293.34,1405.33 1296.84,1410.00 1299.75,1400.43 1304.42,1405.92 1309.09,1407.67 1313.17,1408.25 1316.67,1410.59 1321.34,1416.07 1325.42,1412.34 1328.34,1412.10 1332.42,1407.67 1337.09,1415.25 1341.17,1413.50 1345.84,1413.50 1349.92,1419.34 1353.42,1407.67 1356.92,1407.67 1361.01,1419.34 1365.09,1416.42 1369.76,1419.34" fill="none" stroke="#1e1b1c" stroke-width="1.7" stroke-linejoin="round" stroke-linecap="butt"/>
<polyline points="1023.40,1455.90 1066.00,1455.85 1071.87,1455.00 1075.60,1453.93 1085.20,1447.00 1089.47,1445.61 1094.80,1442.20 1100.13,1437.19 1105.47,1435.80 1114.00,1432.07 1122.53,1429.40 1130.00,1428.12 1135.33,1426.73 1141.73,1423.00 1152.40,1421.40 1160.93,1419.80 1167.33,1418.20 1178.00,1415.53 1186.53,1415.00 1190.80,1416.07 1195.07,1417.67 1199.33,1416.60 1204.67,1417.59 1210.50,1421.09 1214.58,1419.34 1219.25,1421.09 1222.75,1421.09 1226.83,1418.17 1232.67,1419.34 1237.34,1420.50 1242.00,1418.17 1249.00,1421.09 1258.34,1422.84 1265.34,1421.67 1274.67,1422.84 1281.67,1425.17 1287.50,1427.50 1293.34,1428.09 1299.17,1429.84 1305.01,1429.25 1310.84,1429.84 1316.67,1429.84 1322.51,1431.00 1328.34,1430.77 1334.17,1432.17 1345.84,1432.75 1357.51,1432.17 1369.76,1433.34" fill="none" stroke="#1e1b1c" stroke-width="1.7" stroke-linejoin="round" stroke-linecap="butt"/>
<polyline points="1023.40,1455.90 1080.93,1455.85 1087.33,1451.80 1093.73,1446.47 1096.93,1440.07 1101.20,1436.87 1105.47,1437.40 1109.73,1434.52 1118.27,1432.60 1124.67,1430.47 1128.93,1430.47 1133.20,1427.80 1138.00,1419.27 1141.73,1423.53 1146.53,1420.87 1153.47,1423.53 1157.73,1412.12 1162.00,1422.47 1166.27,1418.20 1170.53,1418.20 1178.00,1419.27 1186.53,1418.20 1189.73,1401.67 1193.47,1406.47 1196.13,1402.73 1199.33,1404.33 1203.50,1414.67 1209.33,1414.67 1210.50,1409.42 1215.17,1415.84 1219.83,1414.67 1224.50,1415.84 1231.50,1409.42 1236.17,1415.25 1239.67,1418.75 1243.17,1412.34 1247.84,1414.67 1251.34,1413.50 1258.34,1418.17 1264.17,1415.25 1268.84,1423.42 1275.84,1418.17 1281.67,1422.84 1288.67,1422.25 1292.17,1422.25 1296.84,1418.17 1301.51,1421.67 1307.34,1420.50 1313.17,1425.17 1317.84,1424.00 1325.42,1425.17 1328.34,1427.50 1333.01,1431.59 1340.01,1430.42 1351.67,1429.84 1355.17,1431.59 1361.01,1433.92 1365.67,1428.67 1369.76,1429.84" fill="none" stroke="#1e1b1c" stroke-width="1.7" stroke-linejoin="round" stroke-linecap="butt"/>
<polyline points="1023.40,1455.90 1101.20,1455.85 1108.67,1453.40 1114.00,1453.40 1119.33,1449.67 1124.67,1445.93 1128.93,1441.67 1134.27,1438.47 1138.00,1434.20 1142.27,1432.60 1146.53,1428.33 1150.80,1423.53 1155.60,1418.20 1159.87,1418.20 1165.20,1420.33 1169.47,1421.40 1174.80,1420.33 1179.07,1419.27 1184.40,1417.67 1188.67,1416.60 1194.00,1412.33 1198.27,1408.60 1201.47,1405.40 1203.60,1414.47 1210.00,1415.00 1202.33,1413.50 1207.00,1415.25 1214.00,1410.00 1218.67,1415.25 1224.50,1415.25 1230.92,1421.67 1235.00,1422.25 1240.25,1418.17 1243.17,1421.09 1247.84,1423.42 1254.84,1421.09 1260.67,1423.42 1264.17,1424.00 1270.00,1421.09 1274.67,1420.50 1281.67,1426.34 1288.67,1427.50 1296.84,1425.17 1302.67,1428.09 1309.67,1426.34 1313.17,1429.25 1319.01,1428.09 1327.17,1428.67 1333.01,1432.17 1345.84,1432.17 1352.84,1429.25 1355.17,1432.75 1361.01,1432.17 1369.76,1433.92" fill="none" stroke="#1e1b1c" stroke-width="1.7" stroke-linejoin="round" stroke-linecap="butt"/>
<g transform="translate(1.97,1587.90) scale(0.9738,1)"><text font-size="64" font-weight="bold" fill="#231f20">c</text></g>
<line x1="155.60" y1="1630.20" x2="155.60" y2="2034.20" stroke="#231f20" stroke-width="4.5" stroke-linecap="butt"/>
<line x1="153.40" y1="2032.00" x2="710.80" y2="2032.00" stroke="#231f20" stroke-width="4.2" stroke-linecap="butt"/>
<line x1="139.60" y1="1632.50" x2="155.60" y2="1632.50" stroke="#231f20" stroke-width="4.3" stroke-linecap="butt"/>
<g transform="translate(87.06,1643.40) scale(0.9000,1)"><text font-size="31.5" font-weight="bold" fill="#231f20">&#x2007;50</text><path d="M7.35,0.00 L7.35,-18.00 L2.15,-14.75 L2.15,-18.15 L7.58,-21.67 L11.67,-21.67 L11.67,0.00Z" fill="#231f20"/></g>
<line x1="139.60" y1="1732.40" x2="155.60" y2="1732.40" stroke="#231f20" stroke-width="4.3" stroke-linecap="butt"/>
<g transform="translate(87.06,1743.30) scale(0.9000,1)"><text font-size="31.5" font-weight="bold" fill="#231f20">&#x2007;00</text><path d="M7.35,0.00 L7.35,-18.00 L2.15,-14.75 L2.15,-18.15 L7.58,-21.67 L11.67,-21.67 L11.67,0.00Z" fill="#231f20"/></g>
<line x1="139.60" y1="1832.30" x2="155.60" y2="1832.30" stroke="#231f20" stroke-width="4.3" stroke-linecap="butt"/>
<g transform="translate(102.83,1843.20) scale(0.9000,1)"><text font-size="31.5" font-weight="bold" fill="#231f20">50</text></g>
<line x1="139.60" y1="1932.20" x2="155.60" y2="1932.20" stroke="#231f20" stroke-width="4.3" stroke-linecap="butt"/>
<g transform="translate(118.60,1943.10) scale(0.9000,1)"><text font-size="31.5" font-weight="bold" fill="#231f20">0</text></g>
<line x1="139.60" y1="2032.10" x2="155.60" y2="2032.10" stroke="#231f20" stroke-width="4.3" stroke-linecap="butt"/>
<g transform="translate(93.39,2043.00) scale(0.9000,1)"><text font-size="31.5" font-weight="bold" fill="#231f20">-50</text></g>
<line x1="313.70" y1="2032.00" x2="313.70" y2="2048.50" stroke="#231f20" stroke-width="4.4" stroke-linecap="butt"/>
<line x1="551.60" y1="2032.00" x2="551.60" y2="2048.50" stroke="#231f20" stroke-width="4.4" stroke-linecap="butt"/>
<g transform="translate(256.02,2082.70) scale(0.9050,1)"><text font-size="31.5" font-weight="bold" fill="#231f20">negative</text></g>
<g transform="translate(488.03,2082.70) scale(0.8992,1)"><text font-size="31.5" font-weight="bold" fill="#231f20">positive</text></g>
<g transform="translate(335.64,2132.00) scale(0.9776,1)"><text font-size="30.5" font-weight="bold" fill="#231f20">SAA outcome</text></g>
<g transform="translate(0,0) rotate(-90) translate(-1911.65,69.40) scale(1.0413,1)"><text font-size="30.9" font-weight="bold" fill="#231f20">Hb (ng/ml)</text></g>
<g transform="translate(387.06,1633.40) scale(0.8863,1)"><text font-size="34" font-weight="normal" fill="#231f20">p=0.5350</text></g>
<polyline points="314.00,1678.00 314.00,1654.40 551.60,1654.40 551.60,1820.50" fill="none" stroke="#231f20" stroke-width="4.3" stroke-linejoin="miter" stroke-linecap="round"/>
<line x1="234.80" y1="1905.80" x2="393.60" y2="1905.80" stroke="#77787b" stroke-width="4" stroke-linecap="butt"/>
<line x1="313.80" y1="1843.80" x2="313.80" y2="1966.80" stroke="#6d6e71" stroke-width="2" stroke-linecap="butt"/>
<line x1="273.60" y1="1844.00" x2="354.60" y2="1844.00" stroke="#6d6e71" stroke-width="2" stroke-linecap="butt"/>
<line x1="273.60" y1="1966.80" x2="354.60" y2="1966.80" stroke="#6d6e71" stroke-width="2" stroke-linecap="butt"/>
<line x1="472.40" y1="1917.60" x2="631.80" y2="1917.60" stroke="#77787b" stroke-width="4" stroke-linecap="butt"/>
<line x1="552.00" y1="1890.80" x2="552.00" y2="1944.80" stroke="#6d6e71" stroke-width="2" stroke-linecap="butt"/>
<line x1="511.80" y1="1890.80" x2="592.40" y2="1890.80" stroke="#6d6e71" stroke-width="2" stroke-linecap="butt"/>
<line x1="511.80" y1="1944.80" x2="592.40" y2="1944.80" stroke="#6d6e71" stroke-width="2" stroke-linecap="butt"/>
<circle cx="240.40" cy="1930.20" r="5.8" fill="#231f20"/>
<circle cx="273.00" cy="1930.20" r="5.8" fill="#231f20"/>
<circle cx="305.60" cy="1930.20" r="5.8" fill="#231f20"/>
<circle cx="322.00" cy="1930.20" r="5.8" fill="#231f20"/>
<circle cx="338.40" cy="1930.20" r="5.8" fill="#231f20"/>
<circle cx="354.80" cy="1930.20" r="5.8" fill="#231f20"/>
<circle cx="371.00" cy="1930.20" r="5.8" fill="#231f20"/>
<circle cx="387.80" cy="1930.20" r="5.8" fill="#231f20"/>
<circle cx="256.60" cy="1924.20" r="5.8" fill="#231f20"/>
<circle cx="289.40" cy="1929.20" r="5.8" fill="#231f20"/>
<circle cx="305.60" cy="1903.60" r="5.8" fill="#231f20"/>
<circle cx="322.00" cy="1909.60" r="5.8" fill="#231f20"/>
<circle cx="313.80" cy="1865.40" r="5.8" fill="#231f20"/>
<circle cx="313.50" cy="1701.50" r="5.8" fill="#231f20"/>
<circle cx="478.20" cy="1930.20" r="5.8" fill="#231f20"/>
<circle cx="514.80" cy="1930.20" r="5.8" fill="#231f20"/>
<circle cx="533.40" cy="1930.20" r="5.8" fill="#231f20"/>
<circle cx="552.00" cy="1930.20" r="5.8" fill="#231f20"/>
<circle cx="570.20" cy="1930.20" r="5.8" fill="#231f20"/>
<circle cx="588.60" cy="1930.20" r="5.8" fill="#231f20"/>
<circle cx="607.20" cy="1930.20" r="5.8" fill="#231f20"/>
<circle cx="625.80" cy="1930.20" r="5.8" fill="#231f20"/>
<circle cx="496.40" cy="1928.20" r="5.8" fill="#231f20"/>
<circle cx="552.00" cy="1913.40" r="5.8" fill="#231f20"/>
<circle cx="552.00" cy="1881.60" r="5.8" fill="#231f20"/>
<circle cx="552.00" cy="1845.00" r="5.8" fill="#231f20"/>
<g transform="translate(761.06,1587.20) scale(1.0000,1)"><text font-size="62" font-weight="bold" fill="#231f20">d</text></g>
<defs><pattern id="stip" x="1134.74" y="1632.52" width="7.83" height="7.9" patternUnits="userSpaceOnUse"><circle cx="1.96" cy="1.98" r="1.1" fill="#111"/><circle cx="5.875" cy="5.93" r="1.1" fill="#111"/></pattern></defs>
<rect x="1132.05" y="1631.95" width="110" height="398.5" fill="#fff"/>
<rect x="1132.05" y="1631.95" width="110" height="398.5" fill="url(#stip)" stroke="#111" stroke-width="1.9"/>
<line x1="891.70" y1="1629.30" x2="891.70" y2="2047.70" stroke="#231f20" stroke-width="4.4" stroke-linecap="butt"/>
<line x1="889.50" y1="2030.50" x2="1468.00" y2="2030.50" stroke="#231f20" stroke-width="4.3" stroke-linecap="butt"/>
<line x1="875.00" y1="1631.50" x2="891.70" y2="1631.50" stroke="#231f20" stroke-width="4.3" stroke-linecap="butt"/>
<g transform="translate(819.21,1642.70) scale(0.9710,1)"><text font-size="31" font-weight="bold" fill="#231f20">&#x2007;50</text><path d="M7.24,0.00 L7.24,-17.71 L2.12,-14.52 L2.12,-17.86 L7.46,-21.33 L11.49,-21.33 L11.49,0.00Z" fill="#231f20"/></g>
<line x1="875.00" y1="1764.60" x2="891.70" y2="1764.60" stroke="#231f20" stroke-width="4.3" stroke-linecap="butt"/>
<g transform="translate(819.21,1775.80) scale(0.9710,1)"><text font-size="31" font-weight="bold" fill="#231f20">&#x2007;00</text><path d="M7.24,0.00 L7.24,-17.71 L2.12,-14.52 L2.12,-17.86 L7.46,-21.33 L11.49,-21.33 L11.49,0.00Z" fill="#231f20"/></g>
<line x1="875.00" y1="1897.70" x2="891.70" y2="1897.70" stroke="#231f20" stroke-width="4.3" stroke-linecap="butt"/>
<g transform="translate(835.95,1908.90) scale(0.9710,1)"><text font-size="31" font-weight="bold" fill="#231f20">50</text></g>
<line x1="875.00" y1="2030.80" x2="891.70" y2="2030.80" stroke="#231f20" stroke-width="4.3" stroke-linecap="butt"/>
<g transform="translate(852.69,2042.00) scale(0.9710,1)"><text font-size="31" font-weight="bold" fill="#231f20">0</text></g>
<line x1="891.70" y1="2030.50" x2="891.70" y2="2047.70" stroke="#231f20" stroke-width="4.4" stroke-linecap="butt"/>
<g transform="translate(883.19,2081.30) scale(1.0000,1)"><text font-size="30.7" font-weight="bold" fill="#231f20">0</text></g>
<line x1="908.24" y1="2030.50" x2="908.24" y2="2040.00" stroke="#231f20" stroke-width="4.3" stroke-linecap="butt"/>
<line x1="924.78" y1="2030.50" x2="924.78" y2="2040.00" stroke="#231f20" stroke-width="4.3" stroke-linecap="butt"/>
<line x1="941.32" y1="2030.50" x2="941.32" y2="2040.00" stroke="#231f20" stroke-width="4.3" stroke-linecap="butt"/>
<line x1="957.86" y1="2030.50" x2="957.86" y2="2040.00" stroke="#231f20" stroke-width="4.3" stroke-linecap="butt"/>
<line x1="974.40" y1="2030.50" x2="974.40" y2="2040.00" stroke="#231f20" stroke-width="4.3" stroke-linecap="butt"/>
<line x1="990.94" y1="2030.50" x2="990.94" y2="2040.00" stroke="#231f20" stroke-width="4.3" stroke-linecap="butt"/>
<line x1="1007.48" y1="2030.50" x2="1007.48" y2="2040.00" stroke="#231f20" stroke-width="4.3" stroke-linecap="butt"/>
<line x1="1024.02" y1="2030.50" x2="1024.02" y2="2040.00" stroke="#231f20" stroke-width="4.3" stroke-linecap="butt"/>
<line x1="1040.56" y1="2030.50" x2="1040.56" y2="2040.00" stroke="#231f20" stroke-width="4.3" stroke-linecap="butt"/>
<line x1="1057.10" y1="2030.50" x2="1057.10" y2="2047.70" stroke="#231f20" stroke-width="4.4" stroke-linecap="butt"/>
<g transform="translate(1040.12,2081.30) scale(1.0000,1)"><text font-size="30.7" font-weight="bold" fill="#231f20">20</text></g>
<line x1="1073.64" y1="2030.50" x2="1073.64" y2="2040.00" stroke="#231f20" stroke-width="4.3" stroke-linecap="butt"/>
<line x1="1090.18" y1="2030.50" x2="1090.18" y2="2040.00" stroke="#231f20" stroke-width="4.3" stroke-linecap="butt"/>
<line x1="1106.72" y1="2030.50" x2="1106.72" y2="2040.00" stroke="#231f20" stroke-width="4.3" stroke-linecap="butt"/>
<line x1="1123.26" y1="2030.50" x2="1123.26" y2="2040.00" stroke="#231f20" stroke-width="4.3" stroke-linecap="butt"/>
<line x1="1139.80" y1="2030.50" x2="1139.80" y2="2040.00" stroke="#231f20" stroke-width="4.3" stroke-linecap="butt"/>
<line x1="1156.34" y1="2030.50" x2="1156.34" y2="2040.00" stroke="#231f20" stroke-width="4.3" stroke-linecap="butt"/>
<line x1="1172.88" y1="2030.50" x2="1172.88" y2="2040.00" stroke="#231f20" stroke-width="4.3" stroke-linecap="butt"/>
<line x1="1189.42" y1="2030.50" x2="1189.42" y2="2040.00" stroke="#231f20" stroke-width="4.3" stroke-linecap="butt"/>
<line x1="1205.96" y1="2030.50" x2="1205.96" y2="2040.00" stroke="#231f20" stroke-width="4.3" stroke-linecap="butt"/>
<line x1="1222.50" y1="2030.50" x2="1222.50" y2="2047.70" stroke="#231f20" stroke-width="4.4" stroke-linecap="butt"/>
<g transform="translate(1205.82,2081.30) scale(1.0000,1)"><text font-size="30.7" font-weight="bold" fill="#231f20">40</text></g>
<line x1="1239.04" y1="2030.50" x2="1239.04" y2="2040.00" stroke="#231f20" stroke-width="4.3" stroke-linecap="butt"/>
<line x1="1255.58" y1="2030.50" x2="1255.58" y2="2040.00" stroke="#231f20" stroke-width="4.3" stroke-linecap="butt"/>
<line x1="1272.12" y1="2030.50" x2="1272.12" y2="2040.00" stroke="#231f20" stroke-width="4.3" stroke-linecap="butt"/>
<line x1="1288.66" y1="2030.50" x2="1288.66" y2="2040.00" stroke="#231f20" stroke-width="4.3" stroke-linecap="butt"/>
<line x1="1305.20" y1="2030.50" x2="1305.20" y2="2040.00" stroke="#231f20" stroke-width="4.3" stroke-linecap="butt"/>
<line x1="1321.74" y1="2030.50" x2="1321.74" y2="2040.00" stroke="#231f20" stroke-width="4.3" stroke-linecap="butt"/>
<line x1="1338.28" y1="2030.50" x2="1338.28" y2="2040.00" stroke="#231f20" stroke-width="4.3" stroke-linecap="butt"/>
<line x1="1354.82" y1="2030.50" x2="1354.82" y2="2040.00" stroke="#231f20" stroke-width="4.3" stroke-linecap="butt"/>
<line x1="1371.36" y1="2030.50" x2="1371.36" y2="2040.00" stroke="#231f20" stroke-width="4.3" stroke-linecap="butt"/>
<line x1="1387.90" y1="2030.50" x2="1387.90" y2="2047.70" stroke="#231f20" stroke-width="4.4" stroke-linecap="butt"/>
<g transform="translate(1370.89,2081.30) scale(1.0000,1)"><text font-size="30.7" font-weight="bold" fill="#231f20">60</text></g>
<line x1="1404.44" y1="2030.50" x2="1404.44" y2="2040.00" stroke="#231f20" stroke-width="4.3" stroke-linecap="butt"/>
<line x1="1420.98" y1="2030.50" x2="1420.98" y2="2040.00" stroke="#231f20" stroke-width="4.3" stroke-linecap="butt"/>
<line x1="1437.52" y1="2030.50" x2="1437.52" y2="2040.00" stroke="#231f20" stroke-width="4.3" stroke-linecap="butt"/>
<line x1="1454.06" y1="2030.50" x2="1454.06" y2="2040.00" stroke="#231f20" stroke-width="4.3" stroke-linecap="butt"/>
<g transform="translate(1066.32,2128.50) scale(0.9633,1)"><text font-size="32.2" font-weight="bold" fill="#231f20">Lag time, hours</text></g>
<g transform="translate(0,0) rotate(-90) translate(-1910.96,801.00) scale(1.0247,1)"><text font-size="31.5" font-weight="bold" fill="#231f20">Hb (ng/ml)</text></g>
<g transform="translate(1362.66,1664.50) scale(0.9500,1)"><text font-size="34" font-weight="normal" fill="#231f20">r=-0.&#x2007;8&#x2007;6</text><path d="M79.41,0.00 L79.41,-20.54 L74.13,-16.77 L74.13,-19.59 L79.65,-23.39 L82.41,-23.39 L82.41,0.00Z" fill="#231f20"/><path d="M117.22,0.00 L117.22,-20.54 L111.94,-16.77 L111.94,-19.59 L117.47,-23.39 L120.23,-23.39 L120.23,0.00Z" fill="#231f20"/></g>
<g transform="translate(1362.72,1734.00) scale(0.9506,1)"><text font-size="34" font-weight="normal" fill="#231f20">p=0.5343</text></g>
<circle cx="1245.00" cy="1724.00" r="11.4" fill="#231f20"/>
<circle cx="1300.00" cy="1941.70" r="11.4" fill="#231f20"/>
<circle cx="1242.20" cy="2001.20" r="11.4" fill="#231f20"/>
<circle cx="1315.30" cy="1992.80" r="11.4" fill="#231f20"/>
<circle cx="1174.00" cy="2029.30" r="11.4" fill="#231f20"/>
<circle cx="1210.00" cy="2029.30" r="11.4" fill="#231f20"/>
<circle cx="1253.30" cy="2029.30" r="11.4" fill="#231f20"/>
<circle cx="1270.30" cy="2026.50" r="11.4" fill="#231f20"/>
<circle cx="1281.00" cy="2028.00" r="11.4" fill="#231f20"/>
<circle cx="1305.30" cy="2029.30" r="11.4" fill="#231f20"/>
<circle cx="1326.00" cy="2029.30" r="11.4" fill="#231f20"/>
<circle cx="1334.70" cy="2020.00" r="11.4" fill="#231f20"/>
<circle cx="1372.20" cy="2028.40" r="11.4" fill="#231f20"/>
<circle cx="1466.20" cy="2028.10" r="11.4" fill="#231f20"/>
</svg></body></html>
